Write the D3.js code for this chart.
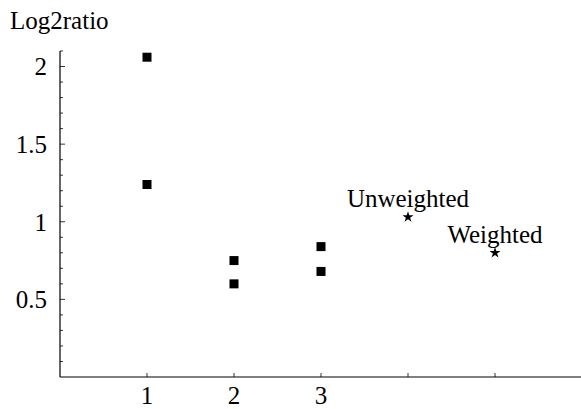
<!DOCTYPE html>
<html><head><meta charset="utf-8">
<script src="https://cdn.jsdelivr.net/npm/d3@7"></script>
<style>body{margin:0;background:#fff}</style>
</head><body><svg id="c" width="581" height="409"></svg>
<script>
const squareX = [1, 1, 2, 2, 3, 3];
const squareY = [2.06, 1.24, 0.75, 0.60, 0.84, 0.68];
const starLabels = ["Unweighted", "Weighted"];
const starX = [4, 5];
const starY = [1.03, 0.80];
const xTicks = [1, 2, 3, 4, 5];
const xTickLabels = ["1", "2", "3", "", ""];
const yTicks = [0.5, 1, 1.5, 2];
const yTickLabels = ["0.5", "1", "1.5", "2"];
const yMinorTicks = d3.range(1, 22).map(i => i / 10);
const yLabel = "Log2ratio";

const svg = d3.select("#c");
const ff = "'Liberation Serif', 'DejaVu Serif', serif";
const x = d3.scaleLinear().domain([0, 6]).range([60, 582]);
const y = d3.scaleLinear().domain([0, 2.1]).range([377, 51]);
const fs = 25;

svg.append("line").attr("x1", x(0)).attr("x2", x(6)).attr("y1", y(0)).attr("y2", y(0)).attr("stroke", "#000").attr("stroke-width", 1.2);
svg.append("line").attr("x1", x(0)).attr("x2", x(0)).attr("y1", y(0)).attr("y2", y(2.1)).attr("stroke", "#000").attr("stroke-width", 1.2);

svg.selectAll(".ymn").data(yMinorTicks).enter().append("line")
  .attr("x1", x(0)).attr("x2", d => x(0) + (Math.abs(d * 2 - Math.round(d * 2)) < 1e-6 ? 5 : 3))
  .attr("y1", d => y(d)).attr("y2", d => y(d)).attr("stroke", "#000").attr("stroke-width", 0.8);
svg.selectAll(".ytl").data(yTicks).enter().append("text")
  .attr("x", x(0) - 13).attr("y", d => y(d)).attr("dy", "0.35em").attr("text-anchor", "end")
  .attr("font-family", ff).attr("font-size", fs).text((d, i) => yTickLabels[i]);

svg.selectAll(".xt").data(xTicks).enter().append("line")
  .attr("x1", d => x(d)).attr("x2", d => x(d)).attr("y1", y(0)).attr("y2", y(0) - 4)
  .attr("stroke", "#000").attr("stroke-width", 0.8);
svg.selectAll(".xtl").data(xTicks).enter().append("text")
  .attr("x", d => x(d)).attr("y", 404).attr("text-anchor", "middle")
  .attr("font-family", ff).attr("font-size", fs).text((d, i) => xTickLabels[i]);

svg.append("text").attr("x", 10).attr("y", 29).attr("font-family", ff).attr("font-size", fs).text(yLabel);

svg.selectAll(".sq").data(squareX).enter().append("rect")
  .attr("x", d => x(d) - 4.5).attr("y", (d, i) => y(squareY[i]) - 4.5)
  .attr("width", 9).attr("height", 9).attr("fill", "#000");

const star = d3.symbol().type(d3.symbolStar).size(38);
svg.selectAll(".st").data(starX).enter().append("path")
  .attr("d", star).attr("transform", (d, i) => `translate(${x(d)},${y(starY[i])})`).attr("fill", "#000");
svg.selectAll(".stl").data(starX).enter().append("text")
  .attr("x", d => x(d)).attr("y", (d, i) => y(starY[i]) - 10).attr("text-anchor", "middle")
  .attr("font-family", ff).attr("font-size", fs).text((d, i) => starLabels[i]);
</script></body></html>
